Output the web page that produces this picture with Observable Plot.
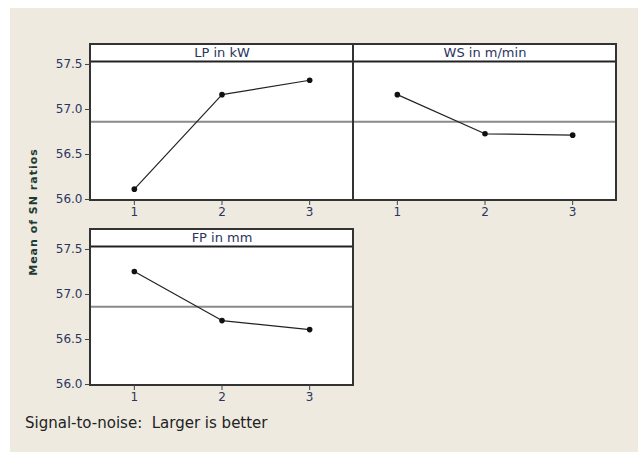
<!DOCTYPE html>
<html>
<head>
<meta charset="utf-8">
<script src="https://cdn.jsdelivr.net/npm/d3@7"></script>
<script src="https://cdn.jsdelivr.net/npm/@observablehq/plot@0.6"></script>
<style>
  html, body { margin: 0; padding: 0; background: #fff; width: 640px; height: 455px; overflow: hidden; }
  #bg { position: absolute; left: 10px; top: 8px; width: 628px; height: 444px; background: #EEEAE0; }
  #chart { position: absolute; left: 0; top: 0; }
  #ylab { position: absolute; left: 33px; top: 212px; transform: translate(-50%, -50%) rotate(-90deg);
          font: bold 11px Tahoma, "DejaVu Sans", sans-serif; color: #1f3a35; white-space: nowrap; letter-spacing: 1px; }
  #caption { position: absolute; left: 25px; top: 414px; font: 15px "DejaVu Sans", sans-serif; color: #222; white-space: pre; }
</style>
</head>
<body>
<div id="bg"></div>
<div id="chart"></div>
<div id="ylab">Mean of SN ratios</div>
<div id="caption">Signal-to-noise:  Larger is better</div>
<script>
// Data
const factors = ["LP in kW", "WS in m/min", "FP in mm"];
const levels = [1, 2, 3];
const lpValues = [56.115, 57.165, 57.325];
const wsValues = [57.165, 56.73, 56.715];
const fpValues = [57.255, 56.71, 56.61];
const overallMean = 56.863;
const yTicks = [56.0, 56.5, 57.0, 57.5];
const panelCol = ["c1", "c2", "c1"];
const panelRow = ["r1", "r1", "r2"];

const seriesValues = [lpValues, wsValues, fpValues];
const rows = [];
factors.forEach((f, i) => {
  levels.forEach((lv, j) => {
    rows.push({factor: f, level: lv, value: seriesValues[i][j], col: panelCol[i], row: panelRow[i]});
  });
});
const panels = factors.map((f, i) => ({factor: f, col: panelCol[i], row: panelRow[i]}));

const yMin = 55.989, yMax = 57.722, stripY = 57.533;

const chart = Plot.plot({
  width: 640,
  height: 455,
  marginLeft: 90,
  marginRight: 24,
  marginTop: 44,
  marginBottom: 70,
  style: {background: "transparent", fontFamily: "Tahoma, 'DejaVu Sans', sans-serif", fontSize: "12px", color: "#1e2a48"},
  fx: {axis: null, padding: 0, domain: ["c1", "c2"]},
  fy: {axis: null, padding: 0.157, domain: ["r1", "r2"]},
  x: {domain: [0.5, 3.5]},
  y: {domain: [yMin, yMax]},
  marks: [
    Plot.rect(panels, {fx: "col", fy: "row", x1: 0.5, x2: 3.5, y1: yMin, y2: yMax, fill: "white"}),
    Plot.ruleY(panels, {fx: "col", fy: "row", y: () => overallMean, stroke: "#8a8a8a", strokeWidth: 2}),
    Plot.ruleY(panels, {fx: "col", fy: "row", y: () => stripY, stroke: "#222", strokeWidth: 2}),
    Plot.text(panels, {fx: "col", fy: "row", x: () => 2, y: () => (stripY + yMax) / 2, text: "factor", fill: "#2a3560", fontSize: 13}),
    Plot.line(rows, {fx: "col", fy: "row", x: "level", y: "value", z: "factor", stroke: "#222", strokeWidth: 1.2}),
    Plot.dot(rows, {fx: "col", fy: "row", x: "level", y: "value", r: 2.8, fill: "#111", stroke: "none"}),
    Plot.rect(panels, {fx: "col", fy: "row", x1: 0.5, x2: 3.5, y1: yMin, y2: yMax, fill: "none", stroke: "#333", strokeWidth: 2}),
    Plot.axisX({ticks: levels, tickFormat: d => String(d), tickSize: 5, tickPadding: 2, facetAnchor: null, stroke: "#444", fill: "#2a3560", fontSize: 12, label: null}),
    Plot.axisY({ticks: yTicks, tickFormat: d => d.toFixed(1), tickSize: 5, tickPadding: 3, stroke: "#444", fill: "#2a3560", fontSize: 12, label: null})
  ]
});
document.getElementById("chart").appendChild(chart);
</script>
</body>
</html>
